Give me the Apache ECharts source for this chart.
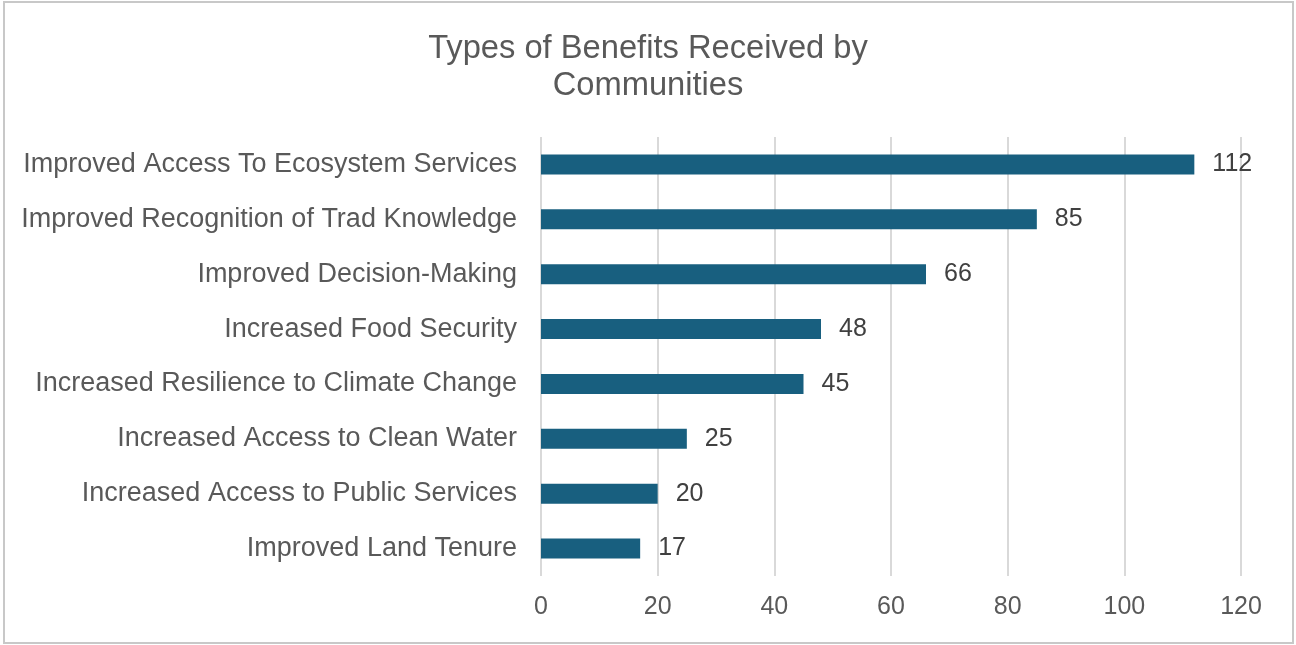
<!DOCTYPE html>
<html>
<head>
<meta charset="utf-8">
<script src="https://cdn.jsdelivr.net/npm/echarts@6/dist/echarts.min.js"></script>
<style>
  html, body { margin: 0; padding: 0; background: #fff; }
  #chart { width: 1296px; height: 645px; }
</style>
</head>
<body>
<div id="chart"></div>
<script>
var categories = [
    'Improved Access To Ecosystem Services',
    'Improved Recognition of Trad Knowledge',
    'Improved Decision-Making',
    'Increased Food Security',
    'Increased Resilience to Climate Change',
    'Increased Access to Clean Water',
    'Increased Access to Public Services',
    'Improved Land Tenure'
];
var counts = [112, 85, 66, 48, 45, 25, 20, 17];
var xTicks = [0, 20, 40, 60, 80, 100, 120];

var chart = echarts.init(document.getElementById('chart'));
var fontName = '"Liberation Sans", Arial, sans-serif';
var option = {
    backgroundColor: '#fff',
    title: {
        text: 'Types of Benefits Received by\nCommunities',
        left: 'center',
        top: 25,
        textStyle: {
            color: '#595959',
            fontFamily: fontName,
            fontWeight: 'normal',
            fontSize: 32.7,
            lineHeight: 37
        }
    },
    graphic: [{
        type: 'rect',
        shape: { x: 4, y: 2, width: 1289, height: 641 },
        style: { fill: 'none', stroke: '#c8c8c8', lineWidth: 2 },
        silent: true
    }],
    grid: {
        left: 541,
        right: 55,
        top: 137,
        bottom: 69
    },
    xAxis: {
        type: 'value',
        min: xTicks[0],
        max: xTicks[xTicks.length - 1],
        interval: 20,
        axisLine: { show: false },
        axisTick: { show: false },
        splitLine: { lineStyle: { color: '#d9d9d9', width: 2 } },
        axisLabel: {
            color: '#595959',
            fontFamily: fontName,
            fontSize: 25,
            margin: 19
        }
    },
    yAxis: {
        type: 'category',
        inverse: true,
        data: categories,
        axisLine: { show: false },
        axisTick: { show: false },
        axisLabel: {
            color: '#595959',
            fontFamily: fontName,
            fontSize: 27,
            margin: 24
        }
    },
    series: [{
        type: 'bar',
        data: counts,
        barWidth: 20,
        itemStyle: { color: '#185f7f' },
        label: {
            show: true,
            position: 'right',
            distance: 18,
            color: '#404040',
            fontFamily: fontName,
            fontSize: 25
        }
    }]
};
chart.setOption(option);
</script>
</body>
</html>
